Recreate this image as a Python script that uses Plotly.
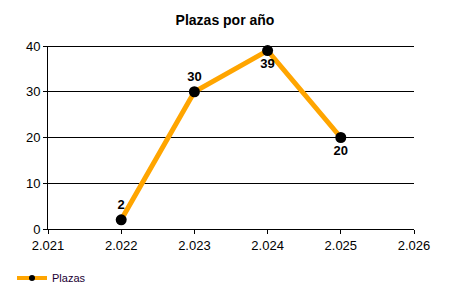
import plotly.graph_objects as go

years = [2022, 2023, 2024, 2025]
plazas = [2, 30, 39, 20]
label_pos = ["top center", "top center", "bottom center", "bottom center"]
x_ticks = [2021, 2022, 2023, 2024, 2025, 2026]
y_ticks = [0, 10, 20, 30, 40]

fig = go.Figure()
fig.add_trace(go.Scatter(
    x=years, y=plazas, mode="lines+markers+text", name="Plazas", showlegend=False,
    line=dict(color="#FFA500", width=5),
    marker=dict(color="black", size=11),
    text=[str(v) for v in plazas], textposition=label_pos,
    textfont=dict(family="Liberation Sans, Arial", size=13, color="black", weight="bold"),
    cliponaxis=False,
))
fig.add_trace(go.Scatter(
    x=[None], y=[None], mode="lines+markers", name="Plazas", showlegend=True,
    line=dict(color="#FFA500", width=4),
    marker=dict(color="black", size=6),
))

# top grid line (plotly omits the grid line at the plot edge)
fig.add_shape(type="line", xref="paper", yref="paper", x0=0, x1=1,
              y0=(229 - 46.5) / 183, y1=(229 - 46.5) / 183,
              line=dict(color="black", width=1), layer="below")

fig.update_layout(
    width=450, height=300,
    margin=dict(l=48, r=36, t=46, b=71, autoexpand=False),
    paper_bgcolor="white", plot_bgcolor="white",
    separators=",.",
    title=dict(text="<b>Plazas por año</b>", x=0.5, xanchor="center", y=1 - 20/300, yanchor="middle",
               font=dict(family="Liberation Sans, Arial", size=14, color="black")),
    font=dict(family="Liberation Sans, Arial", size=13, color="black"),
    xaxis=dict(range=[2021, 2026], tickvals=x_ticks, tickformat=",d", showgrid=False,
               showline=True, linecolor="black", linewidth=1, ticks="outside", ticklen=4,
               tickcolor="black", zeroline=False, tickfont=dict(size=13), automargin=False),
    yaxis=dict(range=[0, 40], tickvals=y_ticks, showgrid=True, gridcolor="black", gridwidth=1,
               showline=True, linecolor="black", linewidth=1, ticks="outside", ticklen=4,
               tickcolor="black", zeroline=False, tickfont=dict(size=13), automargin=False),
    showlegend=True,
    legend=dict(orientation="h", xref="container", yref="container",
                x=12/450, xanchor="left", y=1 - 278/300, yanchor="middle",
                font=dict(size=11, color="#1a0033"), itemwidth=30),
)

fig.write_html("out.html")
